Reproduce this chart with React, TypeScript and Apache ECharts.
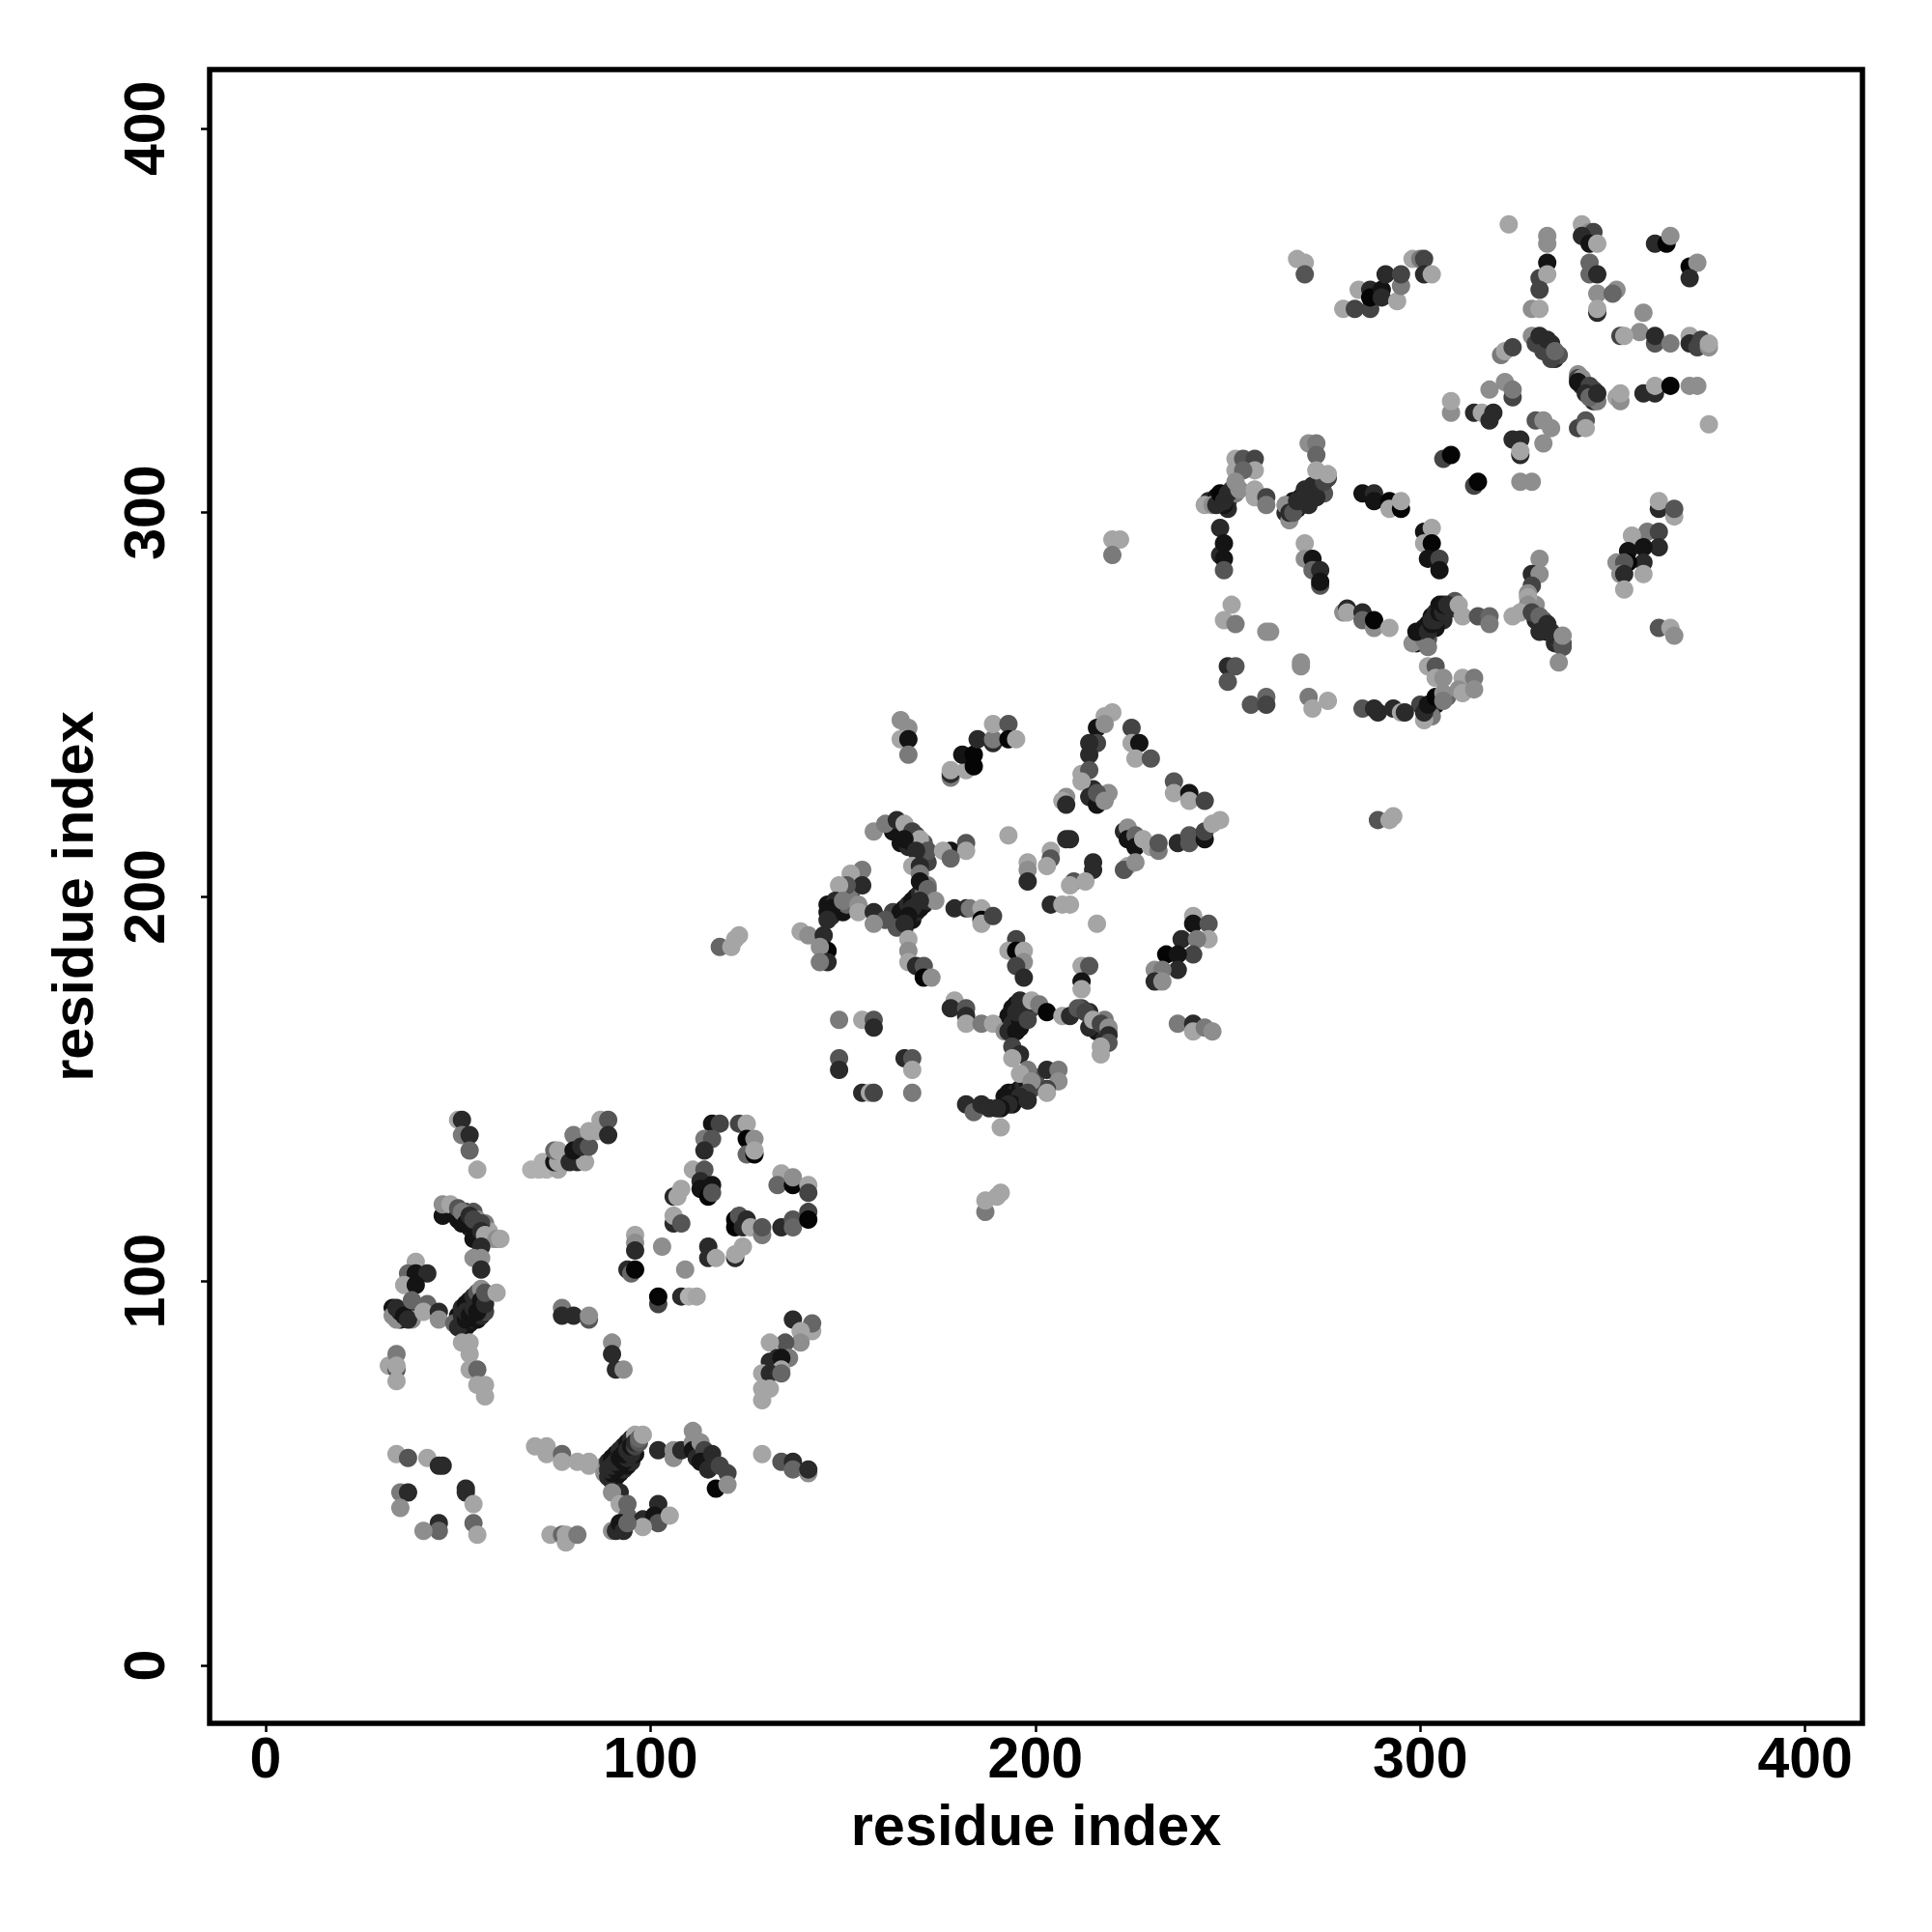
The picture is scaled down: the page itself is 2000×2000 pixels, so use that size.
import React, { useEffect, useRef } from "react";
import * as echarts from "echarts";

// grey shades of the marks
const Z = 5, K = 20, D = 42, E = 68, M = 85, N = 102, G = 122, H = 142, L = 165, W = 176;

const axisTitle = "residue index";
const tickValues = [0, 100, 200, 300, 400];

// [residue x, residue y, shade]
const strandsBeneath = [
  [88,52,H],[89,53,D],[90,54,K],[91,55,K],[92,56,D],[93,57,D],[94,58,K],[95,59,D],[96,60,L],[90,48,D],[91,49,K],[92,50,K],[93,51,D],[94,52,K],[95,53,D],[96,55,K],
  [50,91,K],[51,93,D],[52,94,K],[53,95,K],[54,96,D],[55,97,M],[56,98,H],[51,88,D],[52,88,K],[53,89,K],[54,90,D],[55,90,K],[56,91,D],[57,92,E],
  [33,93,K],[35,90,K],[37,92,D],[38,90,H],
  [50,116,K],[51,115,K],[53,114,K],[54,113,D],[55,112,K],[52,118,E],[54,118,M],[55,116,H],[57,115,G],[58,113,L],
  [163,196,E],[165,196,K],[166,197,K],[167,198,D],[168,199,K],[169,200,K],[170,201,D],[171,201,N],[172,203,G],[166,192,D],[168,194,K],[169,196,D],[170,197,K],[171,198,K],[172,199,D],
  [146,198,K],[147,195,D],[148,197,K],[149,198,K],[150,200,M],[150,196,K],[151,198,N],[152,200,E],[152,202,G],
  [192,167,D],[193,169,K],[194,171,K],[195,172,K],[196,173,D],[197,169,D],[198,170,K],[196,166,K],[195,167,E],[199,171,E],
  [193,149,K],[194,149,K],[195,149,D],[196,150,K],[197,151,D],[198,152,K],[199,150,E],[200,153,M],[192,148,K],
  [212,171,E],[214,170,D],[215,167,D],[216,165,K],[218,163,D],[218,168,G],[219,165,H],
  [163,217,K],[165,214,K],[167,213,D],[168,214,K],[170,213,D],[171,214,M],[169,216,E],[171,211,K],[172,209,E],
  [216,226,K],[215,228,D],[217,225,K],[218,226,G],[219,227,H],
  [299,266,K],[300,268,D],[301,268,K],[302,271,K],[303,273,K],[304,274,D],[305,276,K],[306,272,D],[304,270,K],[302,267,M],[308,275,D],[309,277,M],[298,266,H],
  [265,300,D],[266,302,D],[267,303,K],[268,301,K],[269,302,D],[269,304,K],[270,303,K],[271,305,K],[272,304,D],[273,306,D],[274,307,E],[275,305,M],[276,309,E],[266,298,H],
  [245,303,D],[247,304,K],[248,303,K],[250,303,D],[251,306,M],[252,305,G],[250,301,D],[249,302,K],
  [333,269,K],[334,269,E],[335,266,D],[330,276,H],[331,271,D],[332,272,N],[336,267,E],[337,265,M],[330,272,D],
  [304,250,K],[303,249,K],[305,251,D],[302,247,D],[303,247,G],[307,252,N],
  [342,333,D],[343,333,K],[345,332,E],[345,329,D],[346,329,G],[341,336,H],
  [333,343,K],[332,345,G],[335,340,D],[334,344,D],[336,341,M],
];

const domainOne = [
  [50,142,L],[51,142,D],[51,138,G],[53,138,D],[53,134,N],[55,129,L],
  [69,129,W],[71,129,W],[72,131,W],[73,129,W],[76,129,L],[75,131,K],[76,131,L],[75,134,N],[76,134,L],[79,131,D],[81,131,D],[83,131,L],[80,138,G],[80,134,K],[82,135,D],[84,135,M],[84,139,L],[86,139,L],[87,142,L],[89,142,M],[89,138,D],
  [116,141,K],[118,141,E],[123,141,E],[125,141,L],[114,137,G],[116,137,M],[114,134,D],[125,137,Z],[127,137,H],[125,133,N],[127,133,Z],[127,134,L],
  [111,129,L],[114,129,M],[113,126,D],[113,124,K],[116,125,K],[115,122,Z],[116,123,M],[106,122,D],[107,122,L],[108,124,L],
  [106,115,D],[106,117,L],[108,115,M],
  [134,128,L],[133,125,N],[137,125,Z],[137,127,H],[141,125,L],[141,123,E],
  [122,116,Z],[122,114,Z],[123,117,M],[125,116,D],[124,114,D],[126,114,L],[129,112,G],[129,114,M],[134,114,D],[137,116,M],[137,114,N],[141,118,E],[141,116,Z],
  [103,109,H],[109,103,H],
  [96,112,L],[96,110,H],[96,108,D],[94,103,D],[95,102,N],[96,103,Z],
  [102,94,E],[102,96,Z],[108,96,D],[110,96,W],[112,96,L],
  [115,109,D],[115,106,D],[117,106,L],[122,106,D],[122,107,L],[124,109,L],
  [46,117,K],[46,120,H],[48,120,L],[50,117,K],[50,119,M],[51,118,G],[52,115,K],[53,117,D],[54,111,K],[54,116,E],[56,115,E],[56,113,D],[57,112,L],[59,111,L],[60,111,H],[61,111,L],
  [56,109,D],[54,106,H],[56,106,H],[56,103,D],
  [39,105,L],[37,102,N],[39,102,K],[42,102,D],[36,99,L],[39,99,K],
  [33,91,H],[34,90,H],[35,92,K],[34,93,D],[36,91,K],[37,90,D],[38,95,N],[42,94,N],[41,92,L],[45,92,D],[45,90,H],
  [49,89,N],[50,88,D],[51,91,D],[52,90,K],[52,92,D],[53,91,K],[54,93,D],[55,92,K],[56,95,K],[57,94,D],[57,97,M],[60,97,L],
  [51,84,L],[53,84,L],[53,81,L],[53,77,L],[55,77,N],[55,73,L],[57,73,L],[57,70,L],
  [32,78,L],[34,81,G],[34,77,M],[34,78,L],[34,74,L],
  [77,93,G],[77,91,D],[80,91,D],[84,90,M],[84,91,H],
  [90,84,H],[90,81,D],[91,77,D],[93,77,H],
  [137,90,D],[142,87,L],[142,89,N],[139,87,L],[139,84,H],[135,84,M],[131,84,L],[136,80,G],[131,79,D],[133,80,D],[134,80,K],[134,77,L],[129,76,L],[131,76,D],[134,76,N],[129,72,L],[131,72,L],[129,69,L],
  [34,55,L],[37,54,M],[42,54,L],[45,52,D],[46,52,D],
  [35,45,G],[37,45,D],[35,41,H],[52,45,D],[52,46,D],[54,42,L],[45,37,D],[45,35,N],[41,35,H],[54,37,N],[55,34,L],
  [70,57,L],[73,57,L],[73,55,L],[77,55,N],[77,53,L],[81,53,L],[84,53,L],[84,52,L],
  [88,50,H],[89,49,D],[90,50,K],[89,51,D],[91,51,K],[90,52,D],[92,52,K],[91,53,D],[93,53,K],[92,54,K],[94,54,D],[93,55,K],[95,55,D],[94,56,D],[95,57,K],[96,57,E],[96,58,D],[97,58,M],[97,59,N],[98,60,L],
  [92,45,D],[90,45,H],[92,42,L],[94,42,N],[94,39,N],[102,42,D],[98,38,D],[101,39,K],[102,37,M],[105,39,L],[98,36,L],
  [90,35,H],[91,35,D],[92,37,K],[93,35,D],[94,37,N],
  [74,34,L],[77,34,N],[78,34,L],[78,32,L],[81,34,G],
  [102,56,D],[106,56,H],[106,54,H],[108,56,D],[111,61,H],[111,58,H],[111,56,K],[112,54,D],[113,58,H],[114,56,E],[113,53,K],[116,55,D],[115,51,D],[118,52,E],[117,46,Z],[120,50,E],[120,47,H],
  [129,55,L],[134,53,M],[137,53,D],[137,51,N],[141,50,H],[141,51,D],
];

const domainTwo = [
  [118,187,N],[121,187,L],[123,190,L],[122,189,L],
  [187,118,G],[187,121,L],[191,123,L],[190,122,L],
  [165,246,H],[167,244,H],[165,241,L],[167,241,K],[167,237,G],
  [178,231,G],[178,232,D],[178,233,L],[182,233,L],[181,237,K],[184,237,Z],[184,234,Z],[185,241,D],[189,240,D],[189,241,G],[189,245,L],[193,245,M],[193,241,Z],[195,241,L],
  [220,248,L],[218,247,L],[216,244,K],[218,245,H],[216,240,E],[214,240,D],[214,237,D],[225,244,E],[225,240,L],[227,240,K],[226,236,L],[230,236,M],
  [212,232,L],[214,233,M],[212,230,L],[214,226,D],[216,224,K],[216,227,M],[218,225,H],[208,226,H],[207,225,L],[208,224,D],
  [236,230,M],[236,227,L],[240,227,K],[240,225,L],[244,225,E],
  [223,217,D],[224,218,H],[224,215,K],[226,216,N],[226,213,K],[228,215,L],[230,213,L],[232,212,G],[232,214,M],[237,214,D],[240,214,M],[240,216,M],[244,215,K],[244,217,E],[246,219,L],[248,220,L],
  [224,208,L],[223,207,M],[226,209,H],
  [193,216,L],[204,212,L],[208,215,D],[209,215,D],[204,210,M],[203,208,L],[198,209,L],[198,207,H],[198,204,D],
  [215,209,D],[215,207,D],[210,204,M],[213,204,L],[209,203,L],
  [204,198,D],[207,198,L],[209,198,L],[216,193,L],
  [158,217,H],[161,219,G],[164,220,D],[166,219,L],[168,217,E],[170,215,L],[172,212,M],[166,215,K],[169,212,D],[178,212,K],[176,212,L],[182,214,M],[182,212,L],[178,210,N],
  [168,208,L],[170,208,D],[170,206,G],[170,204,K],[172,202,N],[174,199,H],[170,199,D],[168,197,D],[167,195,K],[165,194,K],[164,192,M],[166,193,D],
  [155,207,G],[152,206,L],[155,203,D],[151,203,M],[149,203,L],
  [148,199,D],[147,197,K],[146,196,K],[146,194,D],[150,199,G],[154,198,H],[154,196,L],[158,196,D],[161,194,M],[158,193,H],
  [139,191,L],[141,190,H],[145,190,D],[146,186,Z],[144,187,H],[146,183,D],[144,183,G],
  [167,189,L],[167,186,H],[167,183,L],[169,182,D],[171,182,M],[171,179,Z],[173,179,H],
  [179,197,D],[182,197,D],[183,197,G],[186,197,L],[186,194,Z],[186,193,L],[189,195,E],
  [195,189,E],[193,186,L],[195,186,Z],[197,186,L],[197,183,H],[195,182,E],[197,179,D],
  [212,182,L],[214,182,M],[212,178,K],[212,176,L],
  [179,173,L],[178,171,D],[182,171,M],[182,169,D],[182,167,L],[186,167,G],[189,167,L],
  [192,165,H],[193,165,D],[194,167,D],[195,165,K],[196,168,K],[195,170,D],[197,171,D],[198,168,E],[199,173,L],[201,172,G],[203,170,Z],[207,169,L],[209,169,D],[211,171,M],[213,170,E],[214,166,D],[215,168,L],[217,167,E],[219,166,H],[219,164,D],[219,162,M],[217,161,L],[217,159,L],
  [194,161,E],[196,159,D],[194,158,L],[198,155,G],[196,154,L],[203,155,D],[206,155,G],[206,152,H],[203,150,E],[199,152,H],[203,149,L],
  [198,149,E],[196,148,D],[194,146,K],[193,146,D],[198,147,D],[191,145,K],
  [182,146,D],[184,144,N],[186,146,D],[188,145,D],[190,145,D],[191,140,L],
  [149,168,G],[155,168,L],[158,168,M],[158,166,D],
  [149,158,M],[149,155,D],[166,158,D],[168,158,M],[168,155,L],[155,149,D],[157,149,L],[158,149,E],[168,149,G],
  [241,195,L],[241,193,K],[245,193,M],[245,189,L],[238,189,D],[242,189,G],[241,185,E],[234,185,Z],[237,185,K],[237,181,D],[231,181,H],[233,181,G],[232,178,L],[231,178,D],[233,178,H],
  [237,167,G],[241,167,D],[241,165,L],[244,166,G],[246,165,H],
];

const domainThree = [
  [220,293,L],[222,293,L],[220,289,G],[289,220,M],[293,221,L],[292,220,L],
  [268,366,L],[270,365,L],[270,362,M],
  [280,353,L],[283,353,E],[284,358,L],[287,358,D],[287,353,E],[287,356,Z],[290,358,K],[290,356,D],[291,362,D],[294,355,L],[295,359,G],[295,362,E],[298,366,L],[300,366,G],[301,366,E],[301,362,D],[303,362,L],
  [323,375,L],
  [333,372,H],[333,370,H],[333,365,K],[331,361,E],[333,362,L],[331,358,E],[329,353,H],[331,353,L],
  [342,375,L],[344,373,H],[345,373,E],[342,372,D],[344,370,K],[346,370,L],
  [344,365,N],[344,362,N],[346,362,D],[346,357,H],[351,358,H],[350,357,N],[346,352,D],[346,353,L],
  [361,370,D],[364,370,Z],[365,372,H],[370,364,Z],[372,365,H],[370,361,D],
  [358,352,H],[357,347,H],[352,346,E],[353,346,L],[361,344,M],[361,346,D],[365,344,G],[370,346,L],[370,344,D],[372,343,E],[373,345,E],[375,343,H],[375,344,L],
  [329,346,H],[330,344,E],[331,346,D],[332,342,E],[333,345,D],[334,340,E],[335,342,N],
  [321,341,G],[322,342,L],[324,343,E],
  [341,335,E],[342,335,H],[341,334,K],[344,333,E],[343,331,D],[344,330,N],[346,331,D],[351,330,L],[352,329,H],[352,331,L],[358,331,D],[361,331,D],[361,333,L],[365,333,Z],[370,333,H],[372,333,H],[375,323,L],
  [341,322,E],[343,324,M],[343,322,L],
  [330,324,M],[332,324,H],[334,322,H],[332,318,H],
  [324,319,D],[326,315,D],[326,319,D],[326,316,L],
  [318,332,H],[322,334,H],[324,330,E],[324,332,G],
  [308,326,H],[308,329,L],[314,326,D],[316,326,L],[319,326,D],[318,324,D],
  [306,314,E],[308,315,Z],[314,307,E],[315,308,Z],[326,308,H],[329,308,H],
  [362,301,D],[362,303,L],[366,299,L],[366,301,M],
  [359,295,G],[362,295,E],[362,291,D],[355,294,L],[354,290,K],[358,291,K],[358,287,D],[354,287,Z],[358,284,L],[351,287,H],[353,287,M],[352,284,H],[353,284,D],[353,280,L],
  [362,270,M],[365,270,L],[366,268,H],
  [244,302,L],[246,302,H],[247,302,D],[248,305,Z],[249,303,D],[250,305,D],[253,306,H],
  [252,314,L],[252,311,L],[254,314,M],[257,314,E],[257,311,L],[254,311,N],[252,308,H],
  [257,306,L],[257,304,L],[260,304,E],[260,302,G],
  [265,302,H],[266,300,D],[267,300,M],[268,303,D],[270,306,D],[271,302,D],[272,307,D],[273,304,D],[275,308,E],[276,310,L],
  [271,318,H],[273,318,G],[273,315,N],[273,311,L],
  [285,305,K],[288,305,D],[288,303,K],[292,303,Z],[292,301,L],[295,301,Z],[295,303,L],
  [248,296,D],[248,289,D],[249,292,K],[249,288,K],[249,285,M],
  [270,292,L],[270,288,H],[272,288,K],[272,285,N],[274,285,D],[274,281,M],[274,282,K],
  [301,295,K],[303,296,L],[301,292,L],[303,292,Z],[302,288,K],[305,288,E],[305,285,K],
  [331,288,H],[329,284,D],[331,284,H],[329,281,E],[328,279,H],[328,278,L],[328,276,H],
  [324,273,L],[326,274,L],[329,274,E],[331,273,N],[331,269,D],[333,271,D],[335,268,D],[337,266,M],[337,268,H],[336,261,H],
  [251,276,L],[249,272,L],[252,271,G],[260,269,H],[261,269,H],
  [280,274,H],[281,275,D],[281,274,L],[285,274,D],[285,272,N],[288,270,H],[288,272,Z],[292,270,L],
  [300,267,H],[301,267,G],[299,269,K],[301,270,K],[302,269,D],[303,271,K],[303,272,D],[304,272,D],[305,274,K],[306,274,D],[306,276,K],[307,276,D],[310,276,L],[311,273,L],[315,273,M],[318,273,N],[318,271,G],
  [302,265,G],[302,260,L],[304,260,M],[304,257,L],[306,257,H],[311,257,L],[314,257,G],[310,254,H],[311,253,L],[314,254,H],
  [301,246,L],[300,250,E],[301,248,D],[302,250,K],[304,252,Z],[306,253,H],[306,251,G],
  [285,249,M],[288,249,D],[289,248,D],[293,249,D],[295,248,L],[296,248,D],
  [269,261,H],[269,260,H],[250,260,D],[252,260,M],[250,256,M],[256,250,M],[260,252,N],[260,250,E],[271,252,G],[276,251,L],[272,249,L],
];

const allPoints = [...strandsBeneath, ...domainOne, ...domainTwo, ...domainThree];

const FONT = '"Liberation Sans", Arial, sans-serif';

export default function App() {
  const ref = useRef<HTMLDivElement>(null);
  useEffect(() => {
    const chart = echarts.init(ref.current!, null, { renderer: "svg" });
    const axisBase = {
      type: "value" as const,
      name: axisTitle,
      nameLocation: "middle" as const,
      nameMoveOverlap: false,
      nameTextStyle: { fontFamily: FONT, fontWeight: "bold" as const, fontSize: 59.5, color: "#000" },
      splitLine: { show: false },
      axisLine: { show: false, onZero: false },
      axisTick: { show: true, length: 9, lineStyle: { color: "#000", width: 2.5 }, customValues: tickValues },
    };
    const labelStyle = { fontFamily: FONT, fontWeight: "bold" as const, fontSize: 59, color: "#000", customValues: tickValues };
    chart.setOption({
      animation: false,
      backgroundColor: "#fff",
      grid: { left: 217, top: 72, width: 1711, height: 1712, show: true, borderColor: "#000", borderWidth: 5.5, backgroundColor: "transparent" },
      xAxis: { ...axisBase, min: -14.56, max: 414.9, nameGap: 75, axisLabel: { ...labelStyle, margin: 6, hideOverlap: false } },
      yAxis: { ...axisBase, min: -15.08, max: 415.3, nameGap: 112, axisLabel: { ...labelStyle, rotate: 90, margin: 38, hideOverlap: false } },
      series: [
        {
          type: "scatter",
          silent: true,
          symbol: "circle",
          symbolSize: 19,
          itemStyle: { opacity: 1 },
          data: allPoints.map(([x, y, g]) => ({
            value: [x, y],
            itemStyle: { color: `rgb(${g},${g},${g})`, opacity: 1 },
          })),
        },
      ],
    });
    return () => chart.dispose();
  }, []);
  return <div ref={ref} style={{ position: "absolute", left: 0, top: 0, width: 2000, height: 2000 }} />;
}
